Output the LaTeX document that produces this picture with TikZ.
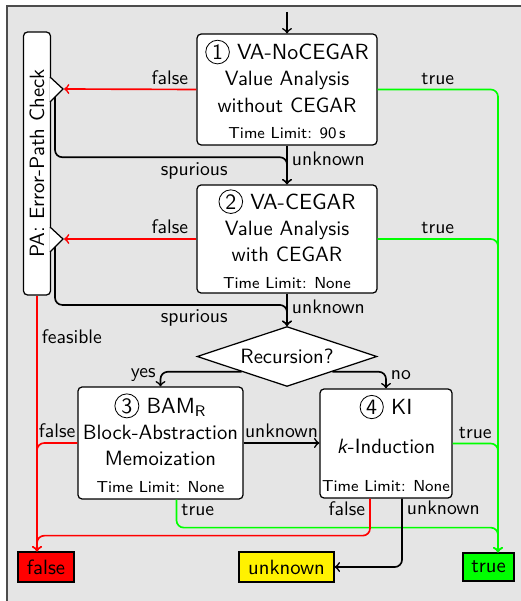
\documentclass[tikz,border=0pt]{standalone}
\usepackage{graphicx}
\usepackage{tikz}
\usetikzlibrary{arrows,shapes.geometric,calc}
\renewcommand{\familydefault}{\sfdefault}

\newcommand{\stepnum}[1]{\tikz[baseline=(num.base)]\node[draw, circle, thin, fill=white,
	minimum width=0pt, minimum height=0pt, inner sep=0.9pt](num){#1};}
\newcommand{\toolhead}[2]{{\fontsize{10.6}{12.8}\selectfont\stepnum{#1} #2}}
\newcommand{\timelimit}[1]{{\fontsize{7.7}{9}\selectfont Time Limit: #1}}

\tikzset{
	analysis/.style={draw, semithick, rounded corners=2pt, fill=white, align=center,
		font=\fontsize{10}{12.8}\selectfont},
	verdict/.style={draw, semithick, minimum height=14.5pt, font=\fontsize{10}{12}\selectfont},
	flow/.style={->, thick, rounded corners=3.5pt},
}

\begin{document}
\begin{tikzpicture}[x=0.484pt, y=-0.484pt, font=\fontsize{9.5}{11}\selectfont,
	every node/.append style={text=black, inner sep=2pt}]
	\useasboundingbox (0,0) rectangle (520,601);
	\draw[fill=black!10, draw=black!70, line width=0.8pt] (7,6) rectangle (540,620);

	% analyses
	\node[analysis, minimum width=87.1pt, minimum height=53.7pt] (va1) at (287,89.5)
		{\toolhead{1}{VA-NoCEGAR}\\ Value Analysis\\ without CEGAR\\ \timelimit{90\,s}};
	\node[analysis, minimum width=87.1pt, minimum height=52.3pt] (va2) at (287,239)
		{\toolhead{2}{VA-CEGAR}\\ Value Analysis\\ with CEGAR\\ \timelimit{None}};
	\node[diamond, draw, semithick, fill=white, aspect=3, inner sep=0pt,
		minimum width=87.1pt, minimum height=29pt, font=\fontsize{10}{12}\selectfont]
		(rec) at (287,356.5) {Recursion?};
	\node[analysis, minimum width=79.9pt, minimum height=54.2pt] (bam) at (160.5,443)
		{\toolhead{3}{BAM\textsubscript{R}}\\ Block-Abstraction\\ Memoization\\ \timelimit{None}};
	\node[analysis, minimum width=63.9pt, minimum height=52.8pt, inner sep=1pt] (ki) at (386,443.5)
		{\toolhead{4}{KI}\\[6pt] \textit{k}-Induction\\[6pt] \timelimit{None}};

	% error-path check
	\node[draw, semithick, rounded corners=2pt, fill=white, inner sep=0pt,
		minimum width=13.1pt, minimum height=127.3pt, font=\fontsize{10}{12}\selectfont]
		(pa) at (37,163.5) {\rotatebox{90}{PA: Error-Path Check}};
	\draw[semithick, fill=white] (50,77) -- (63,89) -- (50,102);
	\draw[semithick, fill=white] (50,227) -- (63,239) -- (50,252);

	% verdicts
	\node[verdict, fill=red, minimum width=27.1pt] (fls) at (46,567) {false};
	\node[verdict, fill=yellow, minimum width=46pt] (unk) at (286.5,567) {unknown};
	\node[verdict, fill=green, minimum width=24.7pt, minimum height=13.6pt] (tru) at (488.5,567) {true};

	\coordinate (start) at (287,12);
	\coordinate (in1) at (64,89);
	\coordinate (in2) at (64,239);
	\coordinate (sp1) at (55,97);
	\coordinate (sp2) at (55,247);
	\coordinate (fin) at (pa.south |- fls.north);
	\coordinate (tin) at ([xshift=4.6pt]tru.north);

	\draw[flow] (start) -- (va1);
	\draw[flow, red] (va1.west) -- node[above, pos=0.2] {false} (in1);
	\draw[flow, green] (va1.east) -| node[above, pos=0.25] {true} (tin);
	\draw[flow] (va1) -- node[right, pos=0.35] {unknown} (va2);
	\draw[flow] (sp1) |- node[below, pos=0.8] {spurious} ($(va1.south)!0.3!(va2.north)$) -- (va2.north);

	\draw[flow, red] (va2.west) -- node[above, pos=0.2] {false} (in2);
	\draw[flow, green] (va2.east) -| node[above, pos=0.25] {true} (tin);
	\draw[flow] (va2) -- node[right, pos=0.4] {unknown} (rec);
	\draw[flow] (sp2) |- node[below, pos=0.8] {spurious} ($(va2.south)!0.35!(rec.north)$) -- (rec.north);

	\draw[flow] (rec.south west) -| node[left, pos=0.6] {yes} (bam.north);
	\draw[flow] (rec.south east) -| node[right, pos=0.6] {no} (ki.north);

	\draw[flow] (bam.east) -- node[above] {unknown} (bam.east -| ki.west);
	\draw[flow, red] (bam.west) -| node[above, pos=0.25] {false} (fin);
	\draw[flow, green] ($(bam.south)+(16,0)$) -- node[right, pos=0.36] {true} ++(0,28) -| (tin);

	\draw[flow, green] (ki.east) -| node[above, pos=0.25] {true} (tin);
	\draw[flow, red] ($(ki.south)+(-16,0)$) -- node[left, pos=0.27] {false} ++(0,37) -| (fin);
	\draw[flow] ($(ki.south)+(16,0)$) |- node[right, pos=0.07] {unknown} (unk);

	\draw[flow, red] (pa.south) -- node[right, pos=0.16] {feasible} (fin);
\end{tikzpicture}
\end{document}
